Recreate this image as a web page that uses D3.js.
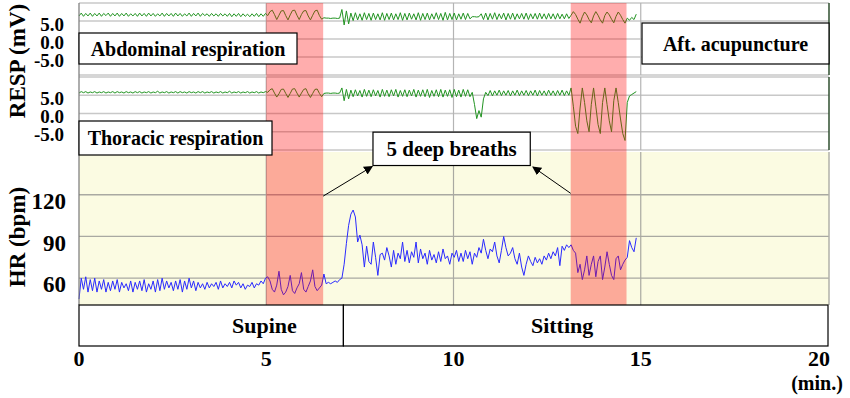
<!DOCTYPE html>
<html>
<head>
<meta charset="utf-8">
<script src="https://cdn.jsdelivr.net/npm/d3@7"></script>
<style>
  body { margin: 0; background: #fff; }
  svg { display: block; }
</style>
</head>
<body>
<svg id="chart" width="850" height="398"></svg>
<script>
// Samples are evenly spaced in time (minutes)
const sampleStep = 0.06;
const minuteTicks = [0, 5, 10, 15, 20];
const respTicks = [5, 0, -5];
const hrTicks = [60, 90, 120];
const deepBreathBands = [[5.0, 6.52], [13.13, 14.62]];
const postureNames = ["Supine", "Sitting"];
const postureBreaks = [0, 7.06, 20];

// RESP abdominal (mV)
const abdominalResp = [
  6.4, 7.2, 6.3, 7.1, 6.4, 7.2, 6.3, 7.1, 6.4, 7.2,
  6.3, 7.1, 6.5, 7.2, 6.3, 7.1, 6.4, 7.2, 6.3, 7.1,
  6.4, 7.2, 6.3, 7.0, 6.4, 7.1, 6.3, 7.2, 6.4, 7.1,
  6.3, 7.2, 6.4, 7.1, 6.3, 7.0, 6.4, 7.2, 6.3, 7.1,
  6.4, 7.1, 6.3, 7.2, 6.4, 7.1, 6.3, 7.0, 6.4, 7.2,
  6.3, 7.1, 6.4, 7.2, 6.3, 7.1, 6.5, 7.0, 6.3, 7.1,
  6.4, 7.0, 6.3, 7.1, 6.4, 7.0, 6.3, 7.1, 6.2, 7.0,
  6.3, 7.1, 6.2, 7.0, 6.3, 6.9, 6.2, 7.0, 6.3, 7.1,
  6.2, 7.0, 6.3, 7.1, 6.5, 7.6, 8.0, 6.8, 5.4, 6.6,
  7.8, 7.9, 6.5, 5.3, 6.7, 7.9, 8.0, 6.6, 5.4, 6.8,
  7.8, 7.9, 6.4, 5.3, 6.6, 7.8, 8.0, 6.5, 5.5, 5.9,
  5.8, 5.8, 5.7, 5.8, 5.8, 5.7, 5.8, 8.2, 3.9, 7.8,
  4.2, 7.2, 5.1, 7.3, 5.3, 7.0, 5.2, 7.3, 5.4, 7.1,
  5.2, 7.2, 5.4, 7.0, 5.3, 7.3, 5.2, 7.1, 5.4, 7.2,
  5.3, 7.0, 5.4, 7.3, 5.2, 7.1, 5.3, 7.2, 5.5, 7.0,
  5.3, 7.3, 5.2, 7.1, 5.4, 7.2, 5.3, 7.0, 5.5, 7.3,
  5.4, 7.1, 5.2, 7.4, 5.3, 7.1, 5.4, 7.2, 5.3, 7.0,
  5.5, 7.2, 5.4, 7.1, 5.6, 6.2, 6.2, 6.1, 6.2, 7.0,
  5.4, 7.2, 5.3, 7.1, 5.5, 7.3, 5.4, 7.0, 5.6, 7.2,
  5.3, 7.1, 5.5, 7.2, 5.4, 7.0, 5.6, 7.1, 5.5, 7.2,
  5.4, 7.0, 5.6, 7.1, 5.5, 7.2, 5.6, 7.0, 5.5, 7.1,
  5.6, 7.0, 5.5, 7.1, 5.6, 6.9, 5.6, 7.0, 5.7, 6.6,
  7.6, 6.8, 5.5, 4.4, 6.2, 7.5, 6.7, 5.4, 4.5, 6.4,
  7.6, 6.6, 5.3, 4.4, 6.5, 7.5, 6.7, 5.5, 4.5, 6.3,
  7.5, 6.6, 5.4, 4.4, 5.8, 5.2, 6.0, 5.4, 6.9
];

// RESP thoracic (mV)
const thoracicResp = [
  5.6, 6.0, 5.7, 6.0, 5.6, 5.9, 5.7, 6.0, 5.6, 5.9,
  5.7, 6.0, 5.6, 5.9, 5.7, 6.0, 5.6, 6.0, 5.7, 5.9,
  5.6, 6.0, 5.7, 5.9, 5.6, 6.0, 5.7, 6.0, 5.6, 5.9,
  5.7, 6.0, 5.6, 5.9, 5.7, 6.1, 5.6, 5.9, 5.7, 6.0,
  5.6, 5.9, 5.7, 6.0, 5.6, 6.0, 5.7, 5.9, 5.6, 6.0,
  5.7, 5.9, 5.6, 6.0, 5.7, 6.0, 5.6, 5.9, 5.7, 6.0,
  5.6, 5.9, 5.7, 6.0, 5.6, 5.9, 5.7, 6.1, 5.6, 5.9,
  5.7, 6.0, 5.6, 5.9, 5.7, 6.0, 5.6, 5.9, 5.7, 6.0,
  5.6, 5.9, 5.7, 6.0, 5.8, 6.5, 6.8, 5.6, 4.5, 5.4,
  6.6, 6.7, 5.5, 4.4, 5.5, 6.7, 6.8, 5.6, 4.5, 5.6,
  6.6, 6.8, 5.4, 4.4, 5.5, 6.6, 6.7, 5.5, 4.6, 5.5,
  5.6, 5.6, 5.5, 5.6, 5.6, 5.5, 5.6, 7.0, 3.5, 6.6,
  4.0, 6.4, 4.6, 6.5, 4.8, 6.3, 4.5, 6.6, 4.7, 6.4,
  4.6, 6.5, 4.8, 6.3, 4.5, 6.6, 4.7, 6.4, 4.6, 6.5,
  4.8, 6.6, 4.5, 6.3, 4.7, 6.5, 4.6, 6.4, 4.8, 6.6,
  4.5, 6.4, 4.7, 6.5, 4.6, 6.6, 4.4, 6.3, 4.7, 6.5,
  4.6, 6.6, 4.5, 6.4, 4.7, 6.5, 4.4, 6.6, 4.6, 6.4,
  4.5, 6.6, 4.7, 6.5, 4.6, 5.8, 2.5, -1.4, 0.8, -1.0,
  4.0, 5.8, 4.9, 6.3, 4.8, 6.2, 5.0, 6.4, 4.9, 6.2,
  5.0, 6.3, 4.8, 6.2, 5.0, 6.4, 4.9, 6.2, 5.0, 6.3,
  4.9, 6.2, 5.0, 6.4, 4.8, 6.3, 5.0, 6.2, 4.9, 6.4,
  5.0, 6.2, 4.9, 6.3, 5.0, 6.4, 4.9, 6.2, 5.0, 7.0,
  2.0, -3.5, -5.5, 1.5, 7.0, 3.0, -2.0, -5.0, 2.5, 7.0,
  2.0, -3.0, -5.5, 3.0, 7.0, 2.5, -2.0, -5.0, 3.5, 7.0,
  3.0, -1.5, -5.5, -7.4, 3.0, 4.8, 5.2, 5.6, 6.0
];

// HR (bpm)
const heartRate = [
  45, 60, 52, 61, 50, 59, 51, 60, 50, 58,
  52, 59, 50, 57, 51, 58, 52, 59, 50, 57,
  53, 56, 51, 58, 50, 57, 52, 58, 51, 59,
  50, 56, 52, 58, 50, 59, 51, 60, 52, 58,
  53, 57, 51, 58, 52, 59, 50, 58, 52, 60,
  53, 58, 51, 57, 53, 56, 52, 57, 53, 56,
  54, 57, 52, 58, 53, 56, 54, 57, 53, 58,
  55, 57, 53, 56, 52, 55, 54, 57, 53, 56,
  55, 58, 56, 60, 61, 58, 52, 50, 55, 65,
  52, 48, 50, 54, 62, 51, 49, 53, 56, 64,
  52, 50, 54, 58, 66, 54, 51, 53, 55, 63,
  56, 57, 56, 57, 58, 57, 59, 60, 70, 85,
  98, 106, 109, 104, 86, 91, 84, 68, 83, 72,
  70, 86, 75, 62, 77, 78, 73, 82, 76, 68,
  80, 70, 78, 74, 86, 72, 80, 71, 79, 75,
  86, 71, 81, 74, 78, 70, 80, 73, 77, 71,
  79, 72, 81, 74, 76, 70, 78, 75, 80, 72,
  78, 72, 80, 74, 79, 70, 78, 75, 82, 78,
  88, 80, 74, 81, 79, 86, 76, 71, 80, 90,
  82, 76, 78, 82, 74, 70, 78, 68, 62, 70,
  76, 72, 69, 75, 71, 74, 70, 76, 73, 78,
  74, 79, 76, 82, 69, 83, 80, 84, 82, 84,
  80, 78, 64, 70, 59, 66, 76, 62, 70, 76,
  61, 72, 76, 59, 68, 79, 70, 62, 59, 74,
  76, 66, 70, 73, 75, 87, 82, 79, 89
];

(function() {
  const svg = d3.select("#chart");
  const left = 79;
  const right = 829;

  const x = d3.scaleLinear().domain([0, 20]).range([left, 828]);

  // Panel layout
  const respPanels = [
    { label: "Abdominal respiration", data: abdominalResp, top: 3, bottom: 75 },
    { label: "Thoracic respiration", data: thoracicResp, top: 77, bottom: 150 }
  ];
  respPanels.forEach(p => {
    p.y = d3.scaleLinear().domain([-10, 10]).range([p.bottom, p.top]);
  });
  const hrTop = 152;
  const hrBottom = 305;
  const hrY = d3.scaleLinear().domain([40, 150]).range([306, 153]);
  const barBottom = 346;

  const defs = svg.append("defs");
  defs
    .append("marker")
    .attr("id", "arrow")
    .attr("viewBox", "0 0 10 10")
    .attr("refX", 9)
    .attr("refY", 5)
    .attr("markerWidth", 9)
    .attr("markerHeight", 9)
    .attr("markerUnits", "userSpaceOnUse")
    .attr("orient", "auto")
    .append("path")
    .attr("d", "M0,0L10,5L0,10z")
    .attr("fill", "#000");

  // HR background
  svg
    .append("rect")
    .attr("x", left)
    .attr("y", hrTop)
    .attr("width", right - left)
    .attr("height", hrBottom - hrTop)
    .attr("fill", "#fbfbe2");

  // Resp grids
  respPanels.forEach(p => {
    const g = svg.append("g").attr("class", "grid");
    g.selectAll("line.h")
      .data([10, ...respTicks, -10])
      .join("line")
      .attr("x1", left)
      .attr("x2", right)
      .attr("y1", d => p.y(d))
      .attr("y2", d => p.y(d))
      .attr("stroke", "#c8c8c8")
      .attr("stroke-width", 1.5);
    g.selectAll("line.v")
      .data(minuteTicks.slice(1, -1))
      .join("line")
      .attr("x1", d => x(d))
      .attr("x2", d => x(d))
      .attr("y1", p.top)
      .attr("y2", p.bottom)
      .attr("stroke", "#b4b4b4")
      .attr("stroke-width", 1.2);
  });

  // HR grid
  const hrGrid = svg.append("g");
  hrGrid
    .selectAll("line.h")
    .data(hrTicks)
    .join("line")
    .attr("x1", left)
    .attr("x2", right)
    .attr("y1", d => hrY(d))
    .attr("y2", d => hrY(d))
    .attr("stroke", "#a9a9a2")
    .attr("stroke-width", 1.3);
  hrGrid
    .selectAll("line.v")
    .data(minuteTicks.slice(1, -1))
    .join("line")
    .attr("x1", d => x(d))
    .attr("x2", d => x(d))
    .attr("y1", hrTop)
    .attr("y2", hrBottom)
    .attr("stroke", "#a9a9a2")
    .attr("stroke-width", 1.2);

  // Traces
  respPanels.forEach(p => {
    const line = d3
      .line()
      .x((d, i) => x(i * sampleStep))
      .y(d => p.y(d));
    svg
      .append("path")
      .datum(p.data)
      .attr("fill", "none")
      .attr("stroke", "#229422")
      .attr("stroke-width", 1)
      .attr("d", line);
  });
  const hrLine = d3
    .line()
    .x((d, i) => x(i * sampleStep))
    .y(d => hrY(d));
  svg
    .append("path")
    .datum(heartRate)
    .attr("fill", "none")
    .attr("stroke", "#2a2aff")
    .attr("stroke-width", 1)
    .attr("d", hrLine);

  // Deep breath bands, over the traces
  svg
    .append("g")
    .selectAll("rect")
    .data(deepBreathBands)
    .join("rect")
    .attr("x", d => x(d[0]))
    .attr("width", d => x(d[1]) - x(d[0]))
    .attr("y", respPanels[0].top)
    .attr("height", hrBottom - respPanels[0].top)
    .attr("fill", "#ff0000")
    .attr("fill-opacity", 0.32);

  // Borders
  svg
    .append("line")
    .attr("x1", left)
    .attr("x2", left)
    .attr("y1", 3)
    .attr("y2", hrBottom)
    .attr("stroke", "#777")
    .attr("stroke-width", 1.2);
  respPanels.forEach(p => {
    svg
      .append("line")
      .attr("x1", right)
      .attr("x2", right)
      .attr("y1", p.top)
      .attr("y2", p.bottom)
      .attr("stroke", "#2f4f2f")
      .attr("stroke-width", 1.5);
  });
  svg
    .append("line")
    .attr("x1", right)
    .attr("x2", right)
    .attr("y1", hrTop)
    .attr("y2", hrBottom)
    .attr("stroke", "#b0b0a8")
    .attr("stroke-width", 1.5);

  // Label boxes
  const boxes = [
    { text: "Abdominal respiration", x0: left, x1: 297, y0: 33, y1: 64 },
    { text: "Thoracic respiration", x0: left, x1: 272, y0: 121, y1: 155 },
    { text: "Aft. acupuncture", x0: 642, x1: right, y0: 23, y1: 64 }
  ];
  const boxG = svg
    .append("g")
    .selectAll("g")
    .data(boxes)
    .join("g");
  boxG
    .append("rect")
    .attr("x", d => d.x0)
    .attr("y", d => d.y0)
    .attr("width", d => d.x1 - d.x0)
    .attr("height", d => d.y1 - d.y0)
    .attr("fill", "#fff")
    .attr("stroke", "#000")
    .attr("stroke-width", 1.2);
  boxG
    .append("text")
    .attr("x", d => (d.x0 + d.x1) / 2)
    .attr("y", d => (d.y0 + d.y1) / 2)
    .attr("dy", "0.35em")
    .attr("text-anchor", "middle")
    .attr("font-size", 20)
    .text(d => d.text);

  // "5 deep breaths" annotation, placed in data units
  const note = { text: "5 deep breaths", x0: 7.85, x1: 12.05, top: 165, bottom: 141 };
  svg
    .append("rect")
    .attr("x", x(note.x0))
    .attr("y", hrY(note.top))
    .attr("width", x(note.x1) - x(note.x0))
    .attr("height", hrY(note.bottom) - hrY(note.top))
    .attr("fill", "#fff")
    .attr("stroke", "#000")
    .attr("stroke-width", 1.2);
  svg
    .append("text")
    .attr("x", x((note.x0 + note.x1) / 2))
    .attr("y", hrY((note.top + note.bottom) / 2))
    .attr("dy", "0.35em")
    .attr("text-anchor", "middle")
    .attr("font-size", 21)
    .text(note.text);
  const arrows = [
    { from: [deepBreathBands[0][1], 119], to: [7.83, 140.3] },
    { from: [deepBreathBands[1][0], 121], to: [12.12, 140] }
  ];
  svg
    .append("g")
    .selectAll("line")
    .data(arrows)
    .join("line")
    .attr("x1", d => x(d.from[0]))
    .attr("y1", d => hrY(d.from[1]))
    .attr("x2", d => x(d.to[0]))
    .attr("y2", d => hrY(d.to[1]))
    .attr("stroke", "#000")
    .attr("stroke-width", 1)
    .attr("marker-end", "url(#arrow)");

  // Posture bar
  const bar = svg.append("g");
  bar
    .selectAll("rect")
    .data(postureNames)
    .join("rect")
    .attr("x", (d, i) => x(postureBreaks[i]))
    .attr("width", (d, i) => Math.min(x(postureBreaks[i + 1]), right) - x(postureBreaks[i]))
    .attr("y", hrBottom)
    .attr("height", barBottom - hrBottom)
    .attr("fill", "#fff")
    .attr("stroke", "#000")
    .attr("stroke-width", 1.2);
  const postureLabelAt = [4.95, 12.9];
  bar
    .selectAll("text")
    .data(postureNames)
    .join("text")
    .attr("x", (d, i) => x(postureLabelAt[i]))
    .attr("y", (hrBottom + barBottom) / 2)
    .attr("dy", "0.35em")
    .attr("text-anchor", "middle")
    .attr("font-size", 22)
    .text(d => d);

  // X tick labels
  svg
    .append("g")
    .selectAll("text")
    .data(minuteTicks)
    .join("text")
    .attr("x", d => x(d))
    .attr("dx", (d, i) => (i === minuteTicks.length - 1 ? -9 : 0))
    .attr("y", 358)
    .attr("dy", "0.35em")
    .attr("text-anchor", "middle")
    .attr("font-size", 22)
    .text(d => d);
  svg
    .append("text")
    .attr("x", 817)
    .attr("y", 383)
    .attr("dy", "0.35em")
    .attr("text-anchor", "middle")
    .attr("font-size", 20)
    .text("(min.)");

  // Y tick labels
  respPanels.forEach(p => {
    svg
      .append("g")
      .selectAll("text")
      .data(respTicks)
      .join("text")
      .attr("x", 64)
      .attr("y", d => p.y(d) + 3)
      .attr("dy", "0.35em")
      .attr("text-anchor", "end")
      .attr("font-size", 19)
      .text(d => d3.format(".1f")(d).replace("−", "-"));
  });
  svg
    .append("g")
    .selectAll("text")
    .data(hrTicks)
    .join("text")
    .attr("x", 66)
    .attr("y", d => hrY(d) + 6)
    .attr("dy", "0.35em")
    .attr("text-anchor", "end")
    .attr("font-size", 23)
    .text(d => d);

  // Axis titles
  const titles = [
    { text: "RESP (mV)", cy: 61 },
    { text: "HR (bpm)", cy: 237 }
  ];
  svg
    .append("g")
    .selectAll("text")
    .data(titles)
    .join("text")
    .attr("transform", d => `translate(17,${d.cy}) rotate(-90)`)
    .attr("dy", "0.35em")
    .attr("text-anchor", "middle")
    .attr("font-size", 23)
    .text(d => d.text);

  // Serif bold on every label
  svg
    .selectAll("text")
    .attr("font-family", "Liberation Serif")
    .attr("font-weight", "bold");
})();
</script>
</body>
</html>
